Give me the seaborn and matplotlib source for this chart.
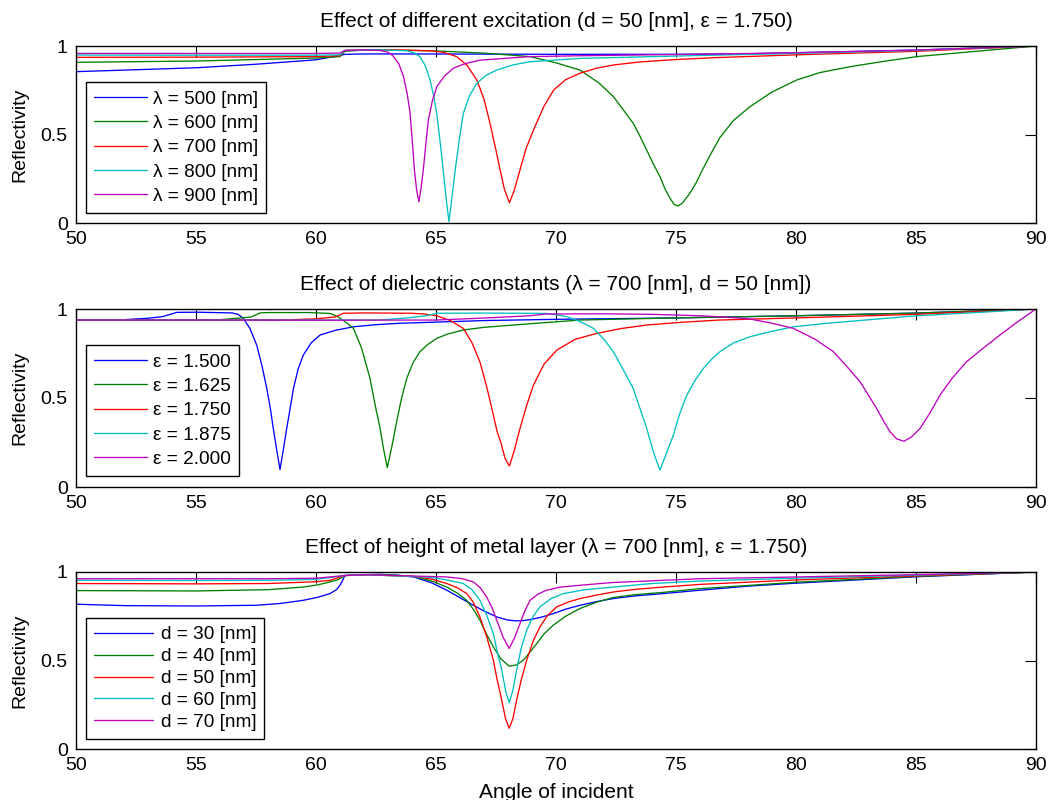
import numpy as np
import pandas as pd
import matplotlib
matplotlib.use("Agg")
import matplotlib.pyplot as plt
import seaborn as sns

# ---------------- data ----------------
# Panel 1: different excitation wavelengths (d = 50 nm, eps = 1.750)
wl_labels = ["λ = 500 [nm]", "λ = 600 [nm]", "λ = 700 [nm]", "λ = 800 [nm]", "λ = 900 [nm]"]
wl500_x = [50, 52.5, 55, 57.5, 60, 60.86, 61.2, 62, 65, 70, 75, 78, 80, 85, 90]
wl500_y = [0.855, 0.866, 0.877, 0.897, 0.922, 0.943, 0.953, 0.955, 0.955, 0.953, 0.953, 0.956, 0.962, 0.977, 1.0]
wl600_x = [50, 55, 60, 61, 61.2, 62, 63, 65, 67, 68.92, 70, 71, 71.8, 72.39, 72.8, 73.22, 73.5, 73.78,
           74.05, 74.33, 74.55, 74.75, 74.92, 75.07, 75.25, 75.58, 75.85, 76.1, 76.45, 76.83, 77.4,
           78.08, 79, 80.03, 81, 82.25, 83.5, 85.03, 87.5, 90]
wl600_y = [0.908, 0.915, 0.932, 0.94, 0.97, 0.977, 0.977, 0.972, 0.96, 0.94, 0.905, 0.864, 0.79, 0.714,
           0.64, 0.563, 0.49, 0.412, 0.335, 0.262, 0.19, 0.14, 0.105, 0.096, 0.11, 0.168, 0.23, 0.30,
           0.39, 0.483, 0.58, 0.657, 0.74, 0.808, 0.85, 0.883, 0.91, 0.94, 0.97, 1.0]
wl700_x = [50, 55, 60, 61, 61.2, 62, 63.5, 64.75, 65.3, 65.86, 66.3, 66.7, 67.0, 67.25, 67.5, 67.67,
           67.85, 68.06, 68.25, 68.5, 68.75, 69.06, 69.5, 69.9, 70.4, 71, 71.7, 72.4, 73.5, 75.17,
           76.8, 80, 85, 90]
wl700_y = [0.936, 0.937, 0.94, 0.945, 0.975, 0.978, 0.978, 0.973, 0.965, 0.94, 0.89, 0.808, 0.70,
           0.563, 0.41, 0.30, 0.19, 0.115, 0.18, 0.30, 0.42, 0.525, 0.66, 0.751, 0.81, 0.846, 0.875,
           0.893, 0.91, 0.925, 0.935, 0.95, 0.97, 1.0]
wl800_x = [50, 55, 60, 61, 61.2, 62, 62.67, 63.8, 64.1, 64.33, 64.55, 64.75, 64.9, 65.03, 65.17, 65.3,
           65.43, 65.54, 65.67, 65.8, 65.97, 66.14, 66.4, 66.7, 67.1, 67.53, 68.2, 68.9, 71, 76.8,
           80, 85, 90]
wl800_y = [0.949, 0.948, 0.948, 0.95, 0.975, 0.978, 0.978, 0.973, 0.96, 0.94, 0.89, 0.808, 0.72,
           0.62, 0.46, 0.30, 0.13, 0.007, 0.15, 0.30, 0.47, 0.62, 0.72, 0.79, 0.835, 0.864, 0.893,
           0.911, 0.93, 0.949, 0.958, 0.975, 1.0]
wl900_x = [50, 55, 60, 61, 61.2, 62, 62.67, 63.0, 63.2, 63.45, 63.64, 63.8, 63.92, 64.02, 64.1, 64.2,
           64.29, 64.38, 64.47, 64.58, 64.68, 64.85, 65.03, 65.35, 65.72, 66.2, 66.83, 68.9, 71,
           76.8, 80, 85, 90]
wl900_y = [0.958, 0.958, 0.958, 0.96, 0.975, 0.978, 0.975, 0.965, 0.945, 0.90, 0.83, 0.73, 0.62,
           0.45, 0.30, 0.18, 0.12, 0.20, 0.30, 0.45, 0.58, 0.69, 0.77, 0.83, 0.874, 0.90, 0.92,
           0.94, 0.945, 0.955, 0.962, 0.977, 1.0]

# Panel 2: different dielectric constants (lambda = 700 nm, d = 50 nm)
eps_labels = ["ε = 1.500", "ε = 1.625", "ε = 1.750", "ε = 1.875", "ε = 2.000"]
eps1500_x = [50, 52, 53, 53.6, 54.2, 55, 56.5, 56.75, 56.97, 57.25, 57.53, 57.75, 57.95, 58.1, 58.22,
             58.36, 58.5, 58.64, 58.78, 58.92, 59.06, 59.25, 59.47, 59.8, 60.17, 60.8, 61.56, 62.5,
             63.5, 67, 70, 75, 80, 85, 90]
eps1500_y = [0.938, 0.94, 0.948, 0.957, 0.981, 0.982, 0.978, 0.97, 0.948, 0.89, 0.797, 0.68, 0.553,
             0.44, 0.329, 0.21, 0.098, 0.21, 0.329, 0.44, 0.553, 0.66, 0.741, 0.81, 0.854, 0.88,
             0.90, 0.912, 0.92, 0.935, 0.942, 0.95, 0.962, 0.977, 1.0]
eps1625_x = [50, 55, 56, 57.3, 57.67, 58, 59.7, 60.6, 60.9, 61.2, 61.56, 61.9, 62.25, 62.45, 62.67,
             62.82, 62.97, 63.15, 63.36, 63.55, 63.78, 64.05, 64.33, 64.65, 65.03, 65.5, 66.14, 67,
             68.22, 71, 75, 80, 85, 90]
eps1625_y = [0.938, 0.938, 0.94, 0.955, 0.978, 0.98, 0.98, 0.975, 0.957, 0.93, 0.891, 0.78, 0.61,
             0.47, 0.329, 0.21, 0.109, 0.22, 0.366, 0.49, 0.61, 0.70, 0.76, 0.80, 0.835, 0.86, 0.882,
             0.897, 0.91, 0.938, 0.95, 0.962, 0.977, 1.0]
eps1750_x = [50, 55, 59, 60, 60.8, 61.14, 62, 64, 64.5, 65.03, 65.6, 66.14, 66.5, 66.83, 67.1, 67.36,
             67.55, 67.7, 67.88, 68.06, 68.25, 68.5, 68.78, 69.06, 69.5, 70.03, 70.8, 71.7, 72.7,
             73.78, 75.2, 76.8, 80, 85, 90]
eps1750_y = [0.938, 0.938, 0.94, 0.945, 0.955, 0.976, 0.978, 0.976, 0.972, 0.962, 0.935, 0.891, 0.81,
             0.703, 0.57, 0.422, 0.31, 0.25, 0.16, 0.118, 0.20, 0.329, 0.46, 0.572, 0.69, 0.769,
             0.83, 0.863, 0.89, 0.91, 0.925, 0.938, 0.95, 0.97, 1.0]
eps1875_x = [50, 55, 60, 62.67, 63.8, 64.5, 65.03, 67, 69.6, 70.0, 70.44, 71.0, 71.56, 72.0, 72.39,
             72.8, 73.22, 73.5, 73.78, 74.05, 74.33, 74.6, 74.89, 75.15, 75.45, 75.8, 76.14, 76.5,
             76.83, 77.4, 78.08, 79, 79.89, 81.3, 82.9, 85.03, 87.5, 90]
eps1875_y = [0.938, 0.938, 0.938, 0.938, 0.95, 0.96, 0.976, 0.977, 0.975, 0.968, 0.957, 0.93, 0.891,
             0.83, 0.76, 0.66, 0.553, 0.44, 0.329, 0.20, 0.094, 0.19, 0.291, 0.41, 0.516, 0.60,
             0.666, 0.72, 0.76, 0.81, 0.844, 0.875, 0.90, 0.92, 0.938, 0.962, 0.98, 1.0]
eps2000_x = [50, 55, 60, 65, 66.8, 68.9, 69.6, 72, 74, 76, 77, 78.08, 79, 79.89, 80.8, 81.56, 82.1,
             82.67, 83.0, 83.36, 83.65, 83.92, 84.2, 84.5, 84.8, 85.17, 85.6, 86, 86.5, 87.1, 87.8,
             88.5, 89.2, 90]
eps2000_y = [0.938, 0.938, 0.937, 0.938, 0.948, 0.962, 0.972, 0.973, 0.97, 0.962, 0.955, 0.944, 0.92,
             0.891, 0.83, 0.76, 0.68, 0.591, 0.52, 0.441, 0.37, 0.31, 0.27, 0.257, 0.28, 0.329,
             0.42, 0.516, 0.61, 0.703, 0.78, 0.854, 0.925, 1.0]

# Panel 3: different metal layer heights (lambda = 700 nm, eps = 1.750)
d_labels = ["d = 30 [nm]", "d = 40 [nm]", "d = 50 [nm]", "d = 60 [nm]", "d = 70 [nm]"]
d30_x = [50, 52, 55, 57.5, 58.5, 59.47, 60.1, 60.58, 60.85, 61.0, 61.1, 61.2, 62, 62.67, 63.4, 64.06,
         64.8, 65.45, 66.0, 66.42, 67.0, 67.53, 68.0, 68.36, 68.6, 68.92, 69.4, 69.89, 70.4, 71,
         71.7, 72.39, 73.3, 74.47, 76.0, 78, 80, 85, 90]
d30_y = [0.818, 0.81, 0.808, 0.812, 0.822, 0.84, 0.858, 0.878, 0.90, 0.925, 0.95, 0.98, 0.985, 0.987,
         0.982, 0.972, 0.94, 0.897, 0.855, 0.822, 0.78, 0.746, 0.728, 0.724, 0.725, 0.731, 0.745,
         0.765, 0.79, 0.812, 0.833, 0.85, 0.865, 0.878, 0.897, 0.92, 0.937, 0.973, 1.0]
d40_x = [50, 55, 58, 59.47, 60.1, 60.58, 60.9, 61.2, 62, 63, 64.06, 64.8, 65.45, 65.9, 66.28, 66.55,
         66.83, 67.1, 67.39, 67.7, 68.05, 68.35, 68.64, 68.9, 69.2, 69.5, 69.89, 70.4, 71, 71.7,
         72.39, 73.3, 74.47, 76.0, 80, 85, 90]
d40_y = [0.895, 0.893, 0.9, 0.915, 0.928, 0.944, 0.955, 0.98, 0.985, 0.985, 0.975, 0.95, 0.915, 0.88,
         0.84, 0.79, 0.728, 0.65, 0.577, 0.51, 0.468, 0.475, 0.502, 0.545, 0.596, 0.65, 0.70, 0.75,
         0.794, 0.83, 0.856, 0.872, 0.885, 0.906, 0.942, 0.975, 1.0]
d50_x = [50, 55, 58, 60, 60.58, 61.2, 62, 64.06, 64.8, 65.45, 65.9, 66.28, 66.55, 66.83, 67.1, 67.39,
         67.55, 67.74, 67.9, 68.05, 68.2, 68.36, 68.55, 68.78, 69.05, 69.33, 69.65, 70.03, 70.5, 71,
         71.7, 72.39, 73.3, 74.47, 76.0, 80, 85, 90]
d50_y = [0.935, 0.933, 0.935, 0.945, 0.953, 0.98, 0.985, 0.975, 0.96, 0.935, 0.91, 0.878, 0.83, 0.746,
         0.64, 0.502, 0.39, 0.276, 0.17, 0.117, 0.17, 0.276, 0.39, 0.502, 0.61, 0.69, 0.755, 0.803,
         0.83, 0.85, 0.87, 0.887, 0.902, 0.915, 0.93, 0.955, 0.978, 1.0]
d60_x = [50, 55, 58, 60, 61.2, 62, 64.75, 65.45, 66.14, 66.5, 66.83, 67.1, 67.39, 67.55, 67.74, 67.9,
         68.05, 68.2, 68.36, 68.55, 68.78, 69.05, 69.33, 69.8, 70.3, 71.2, 72.39, 74, 76.0, 80, 85, 90]
d60_y = [0.953, 0.952, 0.953, 0.958, 0.98, 0.985, 0.97, 0.955, 0.935, 0.90, 0.84, 0.76, 0.653, 0.55,
         0.446, 0.33, 0.261, 0.33, 0.446, 0.57, 0.671, 0.75, 0.803, 0.85, 0.878, 0.90, 0.915, 0.935,
         0.949, 0.965, 0.982, 1.0]
d70_x = [50, 55, 58, 60, 61.2, 62, 65.45, 66.1, 66.56, 66.85, 67.11, 67.33, 67.53, 67.8, 68.05, 68.28,
         68.5, 68.7, 68.92, 69.25, 69.6, 70.2, 71, 72.3, 73.78, 76.0, 80, 85, 90]
d70_y = [0.962, 0.962, 0.962, 0.965, 0.98, 0.985, 0.972, 0.962, 0.944, 0.91, 0.859, 0.80, 0.728, 0.63,
         0.568, 0.63, 0.709, 0.78, 0.84, 0.875, 0.897, 0.915, 0.925, 0.94, 0.949, 0.962, 0.972,
         0.985, 1.0]

titles = ["Effect of different excitation (d = 50 [nm], ε = 1.750)",
          "Effect of dielectric constants (λ = 700 [nm], d = 50 [nm])",
          "Effect of height of metal layer (λ = 700 [nm], ε = 1.750)"]
x_ticks = [50, 55, 60, 65, 70, 75, 80, 85, 90]
y_ticks = [0, 0.5, 1]
y_ticklabels = ["0", "0.5", "1"]

colors = [(0, 0, 1), (0, 0.5, 0), (1, 0, 0), (0, 0.75, 0.75), (0.75, 0, 0.75)]

panels = [
    (list(zip([wl500_x, wl600_x, wl700_x, wl800_x, wl900_x],
              [wl500_y, wl600_y, wl700_y, wl800_y, wl900_y])), wl_labels),
    (list(zip([eps1500_x, eps1625_x, eps1750_x, eps1875_x, eps2000_x],
              [eps1500_y, eps1625_y, eps1750_y, eps1875_y, eps2000_y])), eps_labels),
    (list(zip([d30_x, d40_x, d50_x, d60_x, d70_x],
              [d30_y, d40_y, d50_y, d60_y, d70_y])), d_labels),
]

# ---------------- styling ----------------
sns.set_style("white")
plt.rcParams["font.family"] = ["Liberation Sans", "DejaVu Sans"]
plt.rcParams["font.size"] = 14
plt.rcParams["axes.linewidth"] = 1.0
plt.rcParams["text.color"] = "black"
plt.rcParams["axes.labelcolor"] = "black"
plt.rcParams["axes.titlecolor"] = "black"
plt.rcParams["xtick.color"] = "black"
plt.rcParams["ytick.color"] = "black"

fig = plt.figure(figsize=(10.5, 8), dpi=100)
W, H = 1050.0, 800.0
boxes = [(46, 223), (309, 487), (572, 749)]
legend_anchor = [(86, 213), (86, 476), (86, 739)]
leg_spacing = [0.37, 0.37, 0.24]
leg_handle = [2.8, 2.8, 3.1]
leg_textpad = [0.3, 0.3, 0.4]

for i, ((series, labels), (top, bot)) in enumerate(zip(panels, boxes)):
    ax = fig.add_axes([76 / W, 1 - bot / H, 960 / W, (bot - top) / H])
    for (xs, ys), lab, col in zip(series, labels, colors):
        df = pd.DataFrame({"angle": xs, "R": ys})
        sns.lineplot(data=df, x="angle", y="R", ax=ax, color=col, lw=0.95, label=lab,
                     estimator=None, sort=False)
    ax.set_xlim(50, 90)
    ax.set_ylim(0, 1)
    ax.set_xticks(x_ticks)
    ax.set_xticklabels([str(t) for t in x_ticks])
    ax.set_yticks(y_ticks)
    ax.set_yticklabels(y_ticklabels)
    ax.tick_params(direction="in", length=8, width=0.8, top=True, right=True,
                   labelsize=14, pad=6, colors="black")
    for s in ax.spines.values():
        s.set_color("black")
        s.set_linewidth(1.0)
    ax.set_title(titles[i], fontsize=15, pad=14, color="black")
    ax.set_ylabel("Reflectivity", fontsize=14, labelpad=9, color="black")
    if i == 2:
        ax.set_xlabel("Angle of incident", fontsize=15, labelpad=6, color="black")
    else:
        ax.set_xlabel("")
    lx, ly = legend_anchor[i]
    leg = ax.legend(loc="lower left",
                    bbox_to_anchor=((lx - 76) / 960, (bot - ly) / (bot - top)),
                    borderaxespad=0, frameon=True, fancybox=False, framealpha=1,
                    edgecolor="black", fontsize=13.7, handlelength=leg_handle[i],
                    labelspacing=leg_spacing[i], borderpad=0.42, handletextpad=leg_textpad[i])
    leg.get_frame().set_linewidth(1.0)
    for t in leg.get_texts():
        t.set_color("black")

fig.savefig("out.png", dpi=100, facecolor="white")
